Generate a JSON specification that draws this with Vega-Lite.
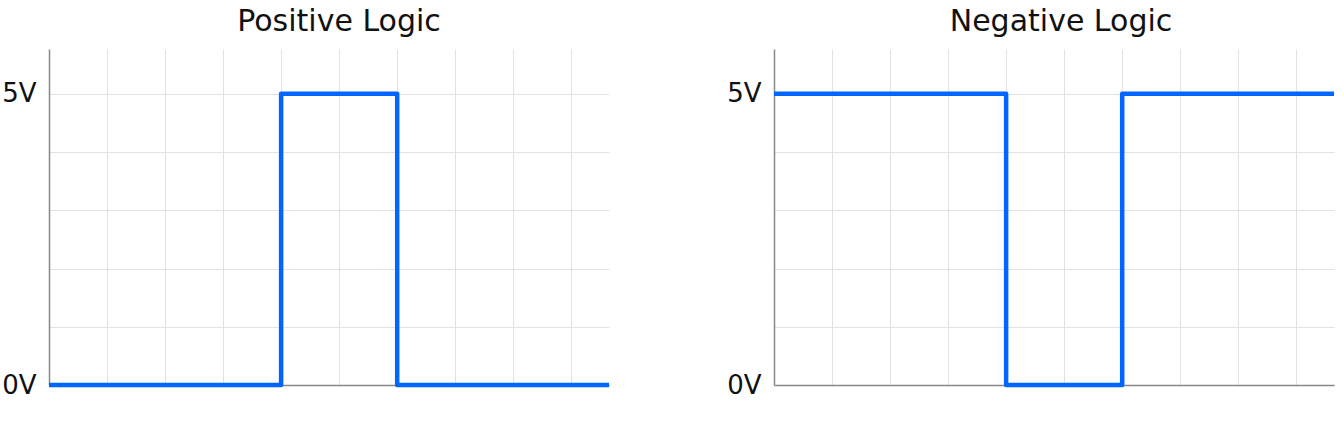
{
  "$schema": "https://vega.github.io/schema/vega-lite/v6.json",
  "padding": {"left": 1, "top": 7, "right": 0, "bottom": 0},
  "background": "white",
  "spacing": 114,
  "config": {
    "font": "DejaVu Sans",
    "view": {"stroke": null},
    "title": {"fontSize": 30, "fontWeight": "normal", "color": "#111111", "offset": 12},
    "axis": {
      "ticks": false,
      "title": null,
      "domainColor": "#888888",
      "domainWidth": 1.5,
      "gridColor": "#e2e2e2",
      "gridWidth": 1,
      "labelFont": "DejaVu Sans",
      "labelFontSize": 26,
      "labelColor": "#111111",
      "labelFlush": false,
      "labelOverlap": false
    }
  },
  "datasets": {
    "pos": [
      {"i": 0, "t": 0, "v": 0},
      {"i": 1, "t": 4, "v": 0},
      {"i": 2, "t": 4, "v": 5},
      {"i": 3, "t": 6, "v": 5},
      {"i": 4, "t": 6, "v": 0},
      {"i": 5, "t": 9.65, "v": 0}
    ],
    "neg": [
      {"i": 0, "t": 0, "v": 5},
      {"i": 1, "t": 4, "v": 5},
      {"i": 2, "t": 4, "v": 0},
      {"i": 3, "t": 6, "v": 0},
      {"i": 4, "t": 6, "v": 5},
      {"i": 5, "t": 9.65, "v": 5}
    ]
  },
  "hconcat": [
    {
      "data": {"name": "pos"},
      "title": {"text": "Positive Logic", "dx": 10},
      "width": 560,
      "height": 336,
      "mark": {"type": "line", "color": "#0066ff", "strokeWidth": 4.5, "strokeJoin": "round", "strokeCap": "butt"},
      "encoding": {
        "order": {"field": "i", "type": "quantitative"},
        "x": {"field": "t", "type": "quantitative", "scale": {"domain": [0, 9.65], "nice": false, "zero": false},
          "axis": {"values": [0, 1, 2, 3, 4, 5, 6, 7, 8, 9], "labels": false, "grid": true}},
        "y": {"field": "v", "type": "quantitative", "scale": {"domain": [0, 5.77], "nice": false},
          "axis": {"values": [0, 1, 2, 3, 4, 5], "grid": true, "labelPadding": 13,
            "labelExpr": "datum.value == 0 ? '0V' : datum.value == 5 ? '5V' : ''"}}
      }
    },
    {
      "data": {"name": "neg"},
      "title": {"text": "Negative Logic", "dx": 7},
      "width": 560,
      "height": 336,
      "mark": {"type": "line", "color": "#0066ff", "strokeWidth": 4.5, "strokeJoin": "round", "strokeCap": "butt"},
      "encoding": {
        "order": {"field": "i", "type": "quantitative"},
        "x": {"field": "t", "type": "quantitative", "scale": {"domain": [0, 9.65], "nice": false, "zero": false},
          "axis": {"values": [0, 1, 2, 3, 4, 5, 6, 7, 8, 9], "labels": false, "grid": true}},
        "y": {"field": "v", "type": "quantitative", "scale": {"domain": [0, 5.77], "nice": false},
          "axis": {"values": [0, 1, 2, 3, 4, 5], "grid": true, "labelPadding": 13,
            "labelExpr": "datum.value == 0 ? '0V' : datum.value == 5 ? '5V' : ''"}}
      }
    }
  ]
}
